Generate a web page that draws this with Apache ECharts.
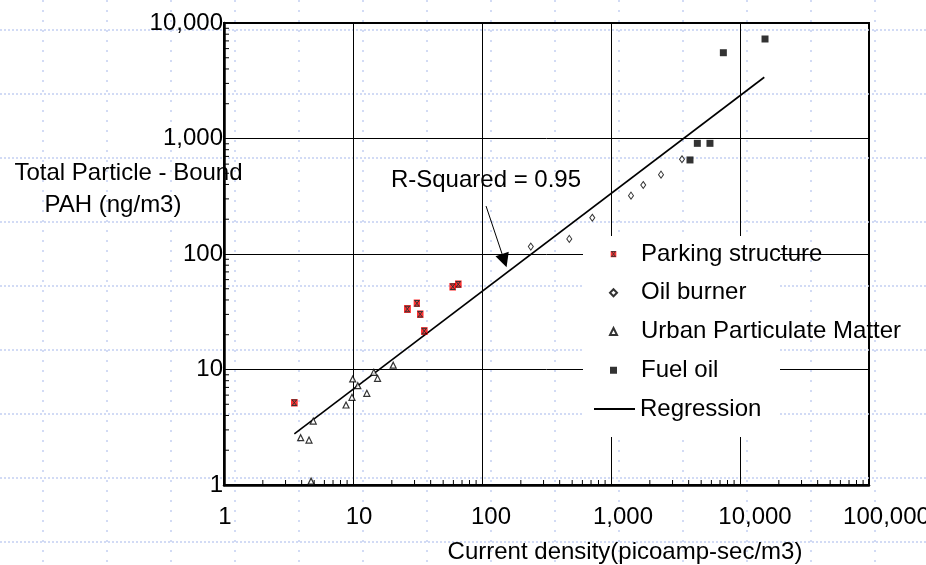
<!DOCTYPE html>
<html><head><meta charset="utf-8">
<script src="https://cdn.jsdelivr.net/npm/echarts/dist/echarts.min.js"></script>
<style>html,body{margin:0;padding:0;background:#fff}#c{width:926px;height:565px}</style>
</head><body><div id="c"></div><script>
// ---- data ----
const parkingX = [3.51, 26.4, 31.3, 33.2, 35.7, 59.3, 65.5];
const parkingY = [5.16, 33.4, 37.4, 30.1, 21.5, 52.1, 54.7];
const oilX = [239, 475, 716, 1429, 1778, 2442, 3550];
const oilY = [116, 135, 206, 320, 396, 486, 661];
const urbanX = [3.93, 4.56, 4.73, 4.92, 8.83, 9.82, 9.95, 10.9, 12.8, 14.5, 15.5, 20.5];
const urbanY = [2.57, 2.45, 1.08, 3.58, 4.93, 5.74, 8.28, 7.24, 6.22, 9.46, 8.39, 10.9];
const fuelX = [4095, 4670, 5850, 7430, 15630];
const fuelY = [652, 908, 908, 5530, 7270];
const regressionX = [3.51, 15420];
const regressionY = [2.77, 3390];
const arrowFrom = [107.5, 260];
const arrowTo = [149, 87.5];
const seriesNames = ['Parking structure', 'Oil burner', 'Urban Particulate Matter', 'Fuel oil', 'Regression'];
const xTickLabels = ['1', '10', '100', '1,000', '10,000', '100,000'];
const yTickLabels = ['1', '10', '100', '1,000', '10,000'];
const xMinorTicks = [2,3,4,5,6,7,8,9,20,30,40,50,60,70,80,90,200,300,400,500,600,700,800,900,2000,3000,4000,5000,6000,7000,8000,9000,20000,30000,40000,50000,60000,70000,80000,90000];
const yMinorTicks = [2,3,4,5,6,7,8,9,20,30,40,50,60,70,80,90,200,300,400,500,600,700,800,900,2000,3000,4000,5000,6000,7000,8000,9000];
const rSquaredText = 'R-Squared = 0.95';
const xName = 'Current density(picoamp-sec/m3)';
const yNameLines = ['Total Particle - Bound', 'PAH (ng/m3)'];

function pairs(xs, ys) { return xs.map((x, i) => [x, ys[i]]); }

const FAM = '"Liberation Sans", Arial, sans-serif';
const FONT = '24px ' + FAM;

const parkSvg = "<svg xmlns='http://www.w3.org/2000/svg' width='7' height='8' viewBox='0 0 7 8'><rect width='7' height='8' fill='#ff0000'/><path d='M1 1.2H6M1 6.8H6M1.2 1.2L5.8 6.8M5.8 1.2L1.2 6.8' stroke='#000' stroke-width='1' fill='none'/></svg>";
const parkSymbol = 'image://data:image/svg+xml;charset=utf-8,' + encodeURIComponent(parkSvg);

// background dotted grid (decoration)
const bg = [];
for (let y = 30; y < 565; y += 64) bg.push({type:'line', z:0, silent:true, shape:{x1:0,y1:y,x2:926,y2:y}, style:{stroke:'#c3d0f2', lineWidth:1.5, lineDash:[2,2]}});
for (let x = 43; x < 926; x += 64) bg.push({type:'line', z:0, silent:true, shape:{x1:x,y1:0,x2:x,y2:565}, style:{stroke:'#c3d0f2', lineWidth:1.5, lineDash:[2,8]}});

function txt(t, x, y, align) {
  return {type:'text', z:5, silent:true, x:x, y:y,
    style:{text:t, font:FONT, fill:'#000', textAlign:align||'center', align:align||'center', textVerticalAlign:'middle', verticalAlign:'middle'}};
}

const legendText = {fontSize:24, fontFamily:FAM, color:'#000', lineHeight:24};

const chart = echarts.init(document.getElementById('c'), null, {renderer:'canvas'});
chart.setOption({
  animation:false,
  backgroundColor:'#fff',
  grid:{left:224, right:57, top:23, bottom:80, show:true, borderColor:'#000', borderWidth:2, backgroundColor:'transparent', containLabel:false, outerBoundsMode:'none'},
  xAxis:{type:'log', logBase:10, min:1, max:100000, splitNumber:5,
    axisLine:{show:true, onZero:false, lineStyle:{color:'#000', width:2.5}},
    axisTick:{show:false}, minorTick:{show:false},
    splitLine:{show:true, lineStyle:{color:'#000', width:1}},
    axisLabel:{show:true, margin:20, color:'#000', fontSize:24, fontFamily:FAM, showMinLabel:true, showMaxLabel:true,
      formatter:function(v){const i=Math.round(Math.log10(v)); return '{l'+i+'|'+xTickLabels[i]+'}';},
      rich:{
        l0:{fontSize:24, fontFamily:FAM, color:'#000', padding:[0,0,0,2]},
        l1:{fontSize:24, fontFamily:FAM, color:'#000', padding:[0,0,0,12]},
        l2:{fontSize:24, fontFamily:FAM, color:'#000', padding:[0,0,0,18]},
        l3:{fontSize:24, fontFamily:FAM, color:'#000', padding:[0,0,0,24]},
        l4:{fontSize:24, fontFamily:FAM, color:'#000', padding:[0,0,0,30]},
        l5:{fontSize:24, fontFamily:FAM, color:'#000', padding:[0,0,0,35]}
      }}
  },
  yAxis:{type:'log', logBase:10, min:1, max:10000, splitNumber:4,
    axisLine:{show:true, onZero:false, lineStyle:{color:'#000', width:2.5}},
    axisTick:{show:false}, minorTick:{show:false},
    splitLine:{show:true, lineStyle:{color:'#000', width:1}},
    axisLabel:{show:true, margin:1, color:'#000', fontSize:24, fontFamily:FAM, padding:[0,0,6,0], showMinLabel:true, showMaxLabel:true,
      formatter:function(v){const i=Math.round(Math.log10(v)); return yTickLabels[i];}}
  },
  legend:[
    {orient:'vertical', left:609, top:242, padding:0, itemWidth:7, itemHeight:7, itemGap:14.75,
      selectedMode:false, z:6,
      textStyle:Object.assign({padding:[0,0,0,19]}, legendText),
      data:seriesNames.slice(0,4)},
    {orient:'vertical', left:593, top:397, padding:0, itemWidth:41, itemHeight:7, itemGap:14.75,
      selectedMode:false, z:6,
      textStyle:legendText,
      data:[{name:seriesNames[4], itemStyle:{opacity:0}}]}
  ],
  graphic:{elements: bg.concat([
    {type:'rect', z:3, silent:true, shape:{x:583, y:236, width:197, height:201}, style:{fill:'#fff'}},
    txt(rSquaredText, 486, 180),
    txt(yNameLines[0], 128.5, 173),
    txt(yNameLines[1], 113, 205),
    txt(xName, 625, 552)
  ])},
  series:[
    {name:seriesNames[4], type:'line', data:pairs(regressionX, regressionY), symbol:'none', showSymbol:false,
      lineStyle:{color:'#000', width:1.6}, itemStyle:{color:'#000'}, z:2,
      markLine:{silent:true, animation:false, symbol:['none','triangle'], symbolSize:14,
        lineStyle:{color:'#000', width:1, type:'solid'}, itemStyle:{color:'#000'}, label:{show:false},
        data:[[{coord:arrowFrom},{coord:arrowTo}]]}},
    {name:seriesNames[0], type:'scatter', data:pairs(parkingX, parkingY), symbol:parkSymbol, symbolSize:[7,8], z:3},
    {name:seriesNames[1], type:'scatter', data:pairs(oilX, oilY), symbol:'diamond', symbolSize:[5,7],
      itemStyle:{color:'#fff', borderColor:'#000', borderWidth:1}, z:3},
    {name:seriesNames[2], type:'scatter', data:pairs(urbanX, urbanY), symbol:'triangle', symbolSize:[6,6],
      itemStyle:{color:'#fff', borderColor:'#000', borderWidth:1.2}, z:3},
    {name:seriesNames[3], type:'scatter', data:pairs(fuelX, fuelY), symbol:'rect', symbolSize:[7,7],
      itemStyle:{color:'#000'}, z:3},
    {name:'xMinor', type:'custom', silent:true, z:1, data:xMinorTicks.map(v=>[v,1]),
      renderItem:function(p, api){const c=api.coord([api.value(0), api.value(1)]);
        return {type:'line', shape:{x1:c[0], y1:c[1], x2:c[0], y2:c[1]-5}, style:{stroke:'#000', lineWidth:1}};}},
    {name:'yMinor', type:'custom', silent:true, z:1, data:yMinorTicks.map(v=>[1,v]),
      renderItem:function(p, api){const c=api.coord([api.value(0), api.value(1)]);
        return {type:'line', shape:{x1:c[0], y1:c[1], x2:c[0]+5, y2:c[1]}, style:{stroke:'#000', lineWidth:1}};}}
  ]
});
</script></body></html>
